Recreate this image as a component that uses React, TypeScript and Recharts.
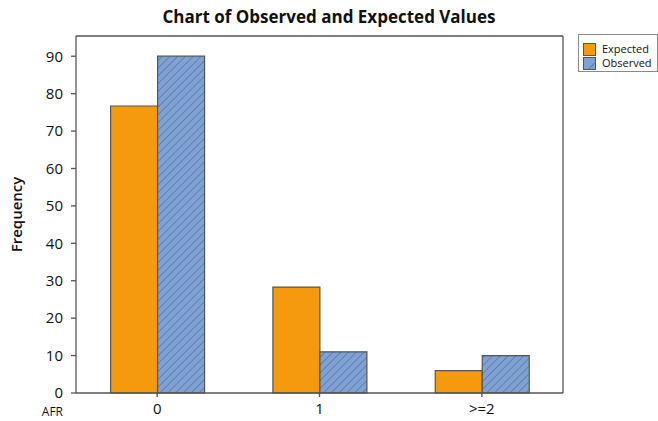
import { BarChart, Bar, XAxis, YAxis, Legend, CartesianGrid } from "recharts";

const categories = ["0", "1", ">=2"];
const expectedValues = [76.7, 28.3, 6.0];
const observedValues = [90, 11, 10];
const yTicks = [0, 10, 20, 30, 40, 50, 60, 70, 80, 90];

const FONT = "'Open Sans', 'Noto Sans', sans-serif";
const AXIS = "#555555";
const ORANGE = "#F59A0C";
const BLUE = "#7EA1D6";
const HATCH = "#4D586B";

const data = categories.map((cat, i) => ({
  cat,
  Expected: expectedValues[i],
  Observed: observedValues[i],
}));

function Swatch({ hatched }: { hatched: boolean }) {
  return (
    <svg width={13} height={13} style={{ display: "block", flex: "none" }}>
      <rect
        x={0.5}
        y={0.5}
        width={12}
        height={12}
        fill={hatched ? "url(#hatchLegend)" : ORANGE}
        stroke={AXIS}
        strokeWidth={1}
      />
    </svg>
  );
}

function LegendBox({ payload }: any) {
  const items = (payload || []).map((p: any) => String(p.value));
  return (
    <div
      style={{
        boxSizing: "border-box",
        width: 80,
        height: 38,
        border: "1px solid #8a8a8a",
        background: "#fff",
        padding: "7px 0 0 4px",
        fontFamily: FONT,
        fontSize: 11,
        color: "#111",
      }}
    >
      {items.map((name: string) => (
        <div
          key={name}
          style={{ display: "flex", alignItems: "center", gap: 6, height: 14, lineHeight: "14px" }}
        >
          <Swatch hatched={name === "Observed"} />
          <span>{name}</span>
        </div>
      ))}
    </div>
  );
}

export default function App() {
  return (
    <div style={{ position: "absolute", left: 0, top: 0, width: 658, height: 421, background: "#fff" }}>
      <div
        style={{
          position: "absolute",
          top: 5,
          left: 0,
          width: 658,
          textAlign: "center",
          fontFamily: FONT,
          fontWeight: 700,
          fontSize: 17,
          color: "#111",
        }}
      >
        Chart of Observed and Expected Values
      </div>
      <BarChart
        width={658}
        height={421}
        data={data}
        margin={{ top: 36, right: 15, bottom: 0, left: 0 }}
        barCategoryGap="21.3%"
        barGap={0}
      >
        <defs>
          <pattern id="hatch" patternUnits="userSpaceOnUse" width={5.5} height={5.5} patternTransform="rotate(45)">
            <rect width={5.5} height={5.5} fill={BLUE} />
            <line x1={0} y1={0} x2={0} y2={5.5} stroke={HATCH} strokeWidth={0.9} />
          </pattern>
          <pattern id="hatchLegend" patternUnits="userSpaceOnUse" width={12} height={12} patternTransform="rotate(45)">
            <rect width={12} height={12} fill={BLUE} />
            <line x1={0} y1={0} x2={0} y2={12} stroke={HATCH} strokeWidth={1} />
          </pattern>
        </defs>
        {/* box around the plot area */}
        <CartesianGrid
          stroke={AXIS}
          strokeWidth={1.3}
          horizontalCoordinatesGenerator={({ offset }: any) => [offset.top]}
          verticalCoordinatesGenerator={({ offset }: any) => [offset.left + offset.width]}
        />
        <XAxis
          dataKey="cat"
          height={28}
          tickSize={4}
          tickMargin={6}
          stroke={AXIS}
          strokeWidth={1.3}
          tick={{ fill: "#111", fontSize: 15, fontFamily: FONT }}
          label={{ value: "AFR", position: "left", offset: 13, dy: 5, fill: "#111", fontSize: 12, fontFamily: FONT }}
        />
        <YAxis
          width={76}
          domain={[0, 95.4]}
          ticks={yTicks}
          tickSize={5}
          tickMargin={8}
          stroke={AXIS}
          strokeWidth={1.3}
          tick={{ fill: "#111", fontSize: 15, fontFamily: FONT }}
          label={{
            value: "Frequency",
            angle: -90,
            position: "insideLeft",
            offset: 17,
            style: { textAnchor: "middle", fill: "#111", fontSize: 15, fontWeight: 600, fontFamily: FONT },
          }}
        />
        <Legend
          layout="vertical"
          align="right"
          verticalAlign="top"
          width={80}
          wrapperStyle={{ right: 0, top: 34 }}
          content={<LegendBox />}
        />
        <Bar dataKey="Expected" fill={ORANGE} stroke={AXIS} strokeWidth={1.2} isAnimationActive={false} />
        <Bar dataKey="Observed" fill="url(#hatch)" stroke={AXIS} strokeWidth={1.2} isAnimationActive={false} />
      </BarChart>
    </div>
  );
}
